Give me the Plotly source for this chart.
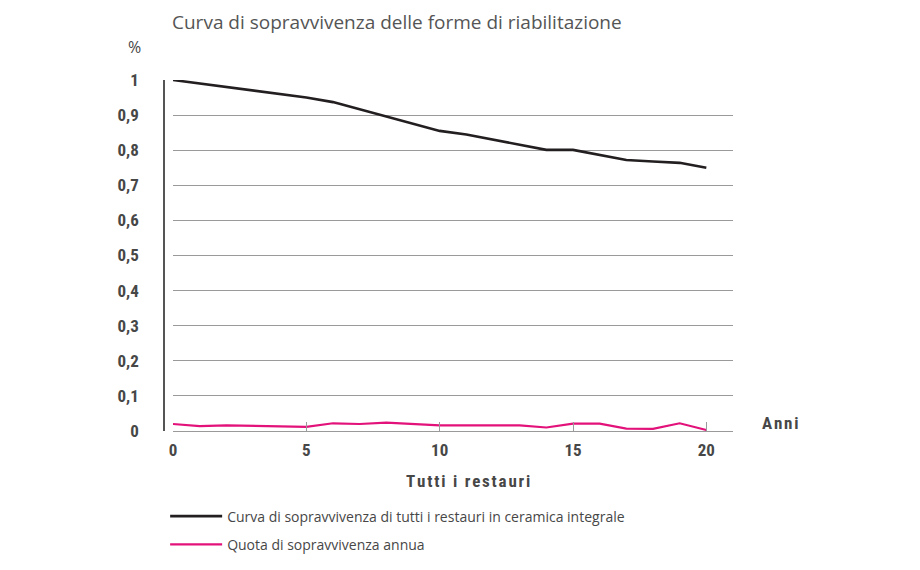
import plotly.graph_objects as go

TITLE = "Curva di sopravvivenza delle forme di riabilitazione"
years = list(range(0, 21))

# survival curve, all full-ceramic restorations
survival = [1.0, 0.99, 0.98, 0.97, 0.96, 0.95, 0.937, 0.917, 0.896, 0.875, 0.855,
            0.845, 0.83, 0.815, 0.801, 0.801, 0.787, 0.772, 0.768, 0.764, 0.75]
# annual survival quota
annual = [0.02, 0.014, 0.016, 0.015, 0.013, 0.012, 0.022, 0.02, 0.024, 0.02, 0.016,
          0.016, 0.016, 0.016, 0.01, 0.021, 0.021, 0.007, 0.006, 0.022, 0.003]

y_ticks = [0, 0.1, 0.2, 0.3, 0.4, 0.5, 0.6, 0.7, 0.8, 0.9, 1.0]
y_labels = ["0", "0,1", "0,2", "0,3", "0,4", "0,5", "0,6", "0,7", "0,8", "0,9", "1"]
x_ticks = [0, 5, 10, 15, 20]

BLACK = "#231f20"
PINK = "#e2127a"
GRID = "#9a9a9a"
TXT = "#474747"
BOLD_FONT = "Roboto Condensed, DejaVu Sans Condensed, sans-serif"
REG_FONT = "Open Sans, Noto Sans, sans-serif"

# plot frame: page x 164..733, the x axis starts 9px right of the y axis line
W = 569
GAP = 9


def px(x):
    return (x - 164) / W


def spaced(s):
    # letter-spaced label, as in the original artwork
    return "&#8202;".join(s)


fig = go.Figure()
fig.add_trace(go.Scatter(
    x=years, y=survival, mode="lines", name="Curva di sopravvivenza di tutti i restauri in ceramica integrale",
    line=dict(color=BLACK, width=2.6), legendgroup="a",
))
fig.add_trace(go.Scatter(
    x=years, y=annual, mode="lines", name="Quota di sopravvivenza annua",
    line=dict(color=PINK, width=2.2), legendgroup="b",
))

# the page body adds an 8px offset, margins are set against that
fig.update_layout(
    width=920, height=570,
    paper_bgcolor="white", plot_bgcolor="white",
    margin=dict(l=156, r=195, t=72, b=147, autoexpand=False),
    title=dict(text=TITLE, x=164 / 920, xanchor="left", y=1 - 14 / 570, yanchor="middle",
               font=dict(family=REG_FONT, size=19, color="#555555")),
    showlegend=True,
    legend=dict(x=0.002, xanchor="left", y=-0.198, yanchor="top", traceorder="grouped",
                tracegroupgap=7, itemwidth=52, font=dict(family=REG_FONT, size=14, color=TXT),
                bgcolor="rgba(0,0,0,0)"),
    xaxis=dict(
        domain=[GAP / W, 1], range=[0, 21], tickvals=x_ticks, ticks="", showgrid=False,
        showline=True, linecolor=GRID, linewidth=1, zeroline=False,
        tickfont=dict(family=BOLD_FONT, size=17, color=TXT, weight="bold"),
        ticklabelstandoff=4,
        minor=dict(tickvals=[5, 10, 15, 20], ticks="inside", ticklen=9,
                   tickcolor=GRID, tickwidth=1, showgrid=False),
    ),
    yaxis=dict(
        anchor="free", position=0,
        range=[0, 1.0], tickvals=y_ticks, ticktext=y_labels, ticks="",
        showgrid=True, gridcolor=GRID, gridwidth=1, zeroline=False,
        showline=True, linecolor="#555555", linewidth=1.5,
        tickfont=dict(family=BOLD_FONT, size=17, color=TXT, weight="bold"),
        ticklabelstandoff=21,
    ),
)

fig.add_annotation(text="%", xref="paper", yref="paper", x=px(134), y=(431 - 47) / 351,
                   xanchor="center", yanchor="middle", showarrow=False,
                   font=dict(family=REG_FONT, size=16, color=TXT))
fig.add_annotation(text=spaced("Anni"), xref="paper", yref="paper", x=px(780), y=(431 - 423) / 351,
                   xanchor="center", yanchor="middle", showarrow=False,
                   font=dict(family=BOLD_FONT, size=17, color=TXT, weight="bold"))
fig.add_annotation(text=spaced("Tutti i restauri"), xref="paper", yref="paper",
                   x=px(468), y=(431 - 481) / 351,
                   xanchor="center", yanchor="middle", showarrow=False,
                   font=dict(family=BOLD_FONT, size=17, color=TXT, weight="bold"))

fig.write_html("out.html")
